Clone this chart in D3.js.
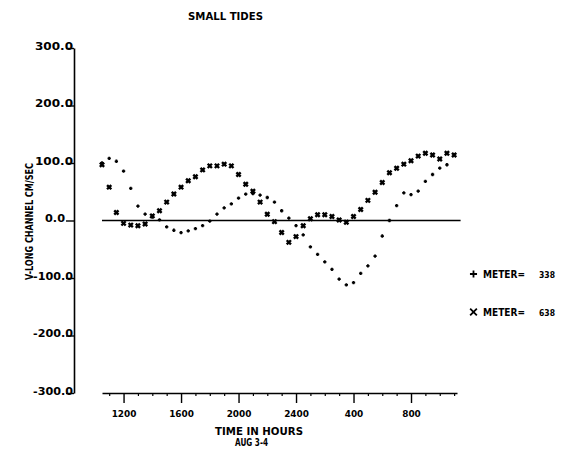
<!DOCTYPE html>
<html>
<head>
<meta charset="utf-8">
<script src="https://cdn.jsdelivr.net/npm/d3@7"></script>
<style>
  html, body { margin: 0; padding: 0; background: #fff; }
  svg text { font-family: "DejaVu Sans", sans-serif; font-weight: bold; fill: #000; }
</style>
</head>
<body>
<svg id="chart" width="561" height="451"></svg>
<script>
// ---- data ----
const hours638 = [10.5, 11, 11.5, 12, 12.5, 13, 13.5, 14, 14.5, 15,
                  15.5, 16, 16.5, 17, 17.5, 18, 18.5, 19, 19.5, 20,
                  20.5, 21, 21.5, 22, 22.5, 23, 23.5, 24, 24.5, 25,
                  25.5, 26, 26.5, 27, 27.5, 28, 28.5, 29, 29.5, 30,
                  30.5, 31, 31.5, 32, 32.5, 33, 33.5, 34, 34.5, 35];
const meter638 = [97, 58, 14, -5, -8, -9, -6, 8, 17, 32,
                  46, 58, 69, 76, 88, 95, 95, 98, 95, 80,
                  63, 51, 32, 11, -2, -21, -38, -28, -9, 3,
                  10, 10, 7, 1, -3, 7, 19, 35, 49, 66,
                  83, 91, 98, 104, 112, 117, 114, 107, 117, 114];
const hours338 = [10.5, 11, 11.5, 12, 12.5, 13, 13.5, 14, 14.5, 15,
                  15.5, 16, 16.5, 17, 17.5, 18, 18.5, 19, 19.5, 20,
                  20.5, 21, 21.5, 22, 22.5, 23, 23.5, 24, 24.5, 25,
                  25.5, 26, 26.5, 27, 27.5, 28, 28.5, 29, 29.5, 30,
                  30.5, 31, 31.5, 32, 32.5, 33, 33.5, 34, 34.5];
const meter338 = [100, 108, 103, 86, 56, 25, 11, 6, 1, -11,
                  -17, -21, -18, -14, -9, -1, 11, 22, 29, 39,
                  46, 47, 44, 40, 32, 17, 4, -9, -25, -46,
                  -59, -72, -85, -102, -112, -108, -92, -79, -62, -27,
                  0, 26, 48, 45, 51, 68, 80, 91, 97];
const yTickValues = [300, 200, 100, 0, -100, -200, -300];
const yTickLabels = ["300.0", "200.0", "100.0", "0.0", "-100.0", "-200.0", "-300.0"];
const xMajorTicks = [12, 16, 20, 24, 28, 32];
const xTickLabels = ["1200", "1600", "2000", "2400", "400", "800"];
const xMinorTicks = [11, 13, 14, 15, 17, 18, 19, 21, 22, 23, 25, 26, 27, 29, 30, 31, 33, 34, 35];
const title = "SMALL TIDES";
const xTitle1 = "TIME IN HOURS";
const xTitle2 = "AUG 3-4";
const yTitle = "V-LONG CHANNEL CM/SEC";
const legendLabels = ["METER=", "METER="];
const legendNumbers = ["338", "638"];

// ---- scales ----
const svg = d3.select("#chart");
const x = d3.scaleLinear().domain([10.5, 35.2]).range([102, 457]);
const y = d3.scaleLinear().domain([-300, 300]).range([393, 48]);
const yAxisX = 74;
const xAxisY = 393;

// custom plotter symbols
const plusSym = { draw(ctx, size) { const r = Math.sqrt(size) / 2;
  ctx.moveTo(-r, 0); ctx.lineTo(r, 0); ctx.moveTo(0, -r); ctx.lineTo(0, r); } };
const timesSym = { draw(ctx, size) { const r = Math.sqrt(size) / 2;
  ctx.moveTo(-r, -r); ctx.lineTo(r, r); ctx.moveTo(-r, r); ctx.lineTo(r, -r); } };

// ---- title ----
svg.append("text").attr("x", 188).attr("y", 20).attr("font-size", 11)
  .attr("textLength", 75).attr("lengthAdjust", "spacingAndGlyphs").text(title);

// ---- y axis ----
const yAxis = d3.axisLeft(y).tickValues(yTickValues).tickSize(8)
  .tickFormat((d, i) => yTickLabels[i]).tickSizeOuter(0);
const gy = svg.append("g").attr("transform", `translate(${yAxisX},0)`).call(yAxis);
gy.select(".domain").attr("stroke", "#000").attr("stroke-width", 1.6);
gy.selectAll(".tick line").attr("stroke", "#000").attr("stroke-width", 1.4);
gy.selectAll(".tick text").attr("font-size", 11).attr("x", -1).attr("dy", "0.1em")
  .style("font-family", "DejaVu Sans").style("font-weight", "bold")
  .attr("textLength", (d, i) => yTickLabels[i].length > 5 ? 40 : (yTickLabels[i].length > 3 ? 38 : 20))
  .attr("lengthAdjust", "spacingAndGlyphs");
gy.selectAll(".tick").filter(d => d === 0).select("text").attr("x", -9);

// ---- x axis ----
const xAxis = d3.axisBottom(x).tickValues(xMajorTicks).tickSize(10)
  .tickFormat((d, i) => xTickLabels[i]).tickSizeOuter(0);
const gx = svg.append("g").attr("transform", `translate(0,${xAxisY})`).call(xAxis);
gx.select(".domain").attr("stroke", "#000").attr("stroke-width", 1.6);
gx.selectAll(".tick line").attr("stroke", "#000").attr("stroke-width", 1.4);
gx.selectAll(".tick text").attr("font-size", 9.5).attr("y", 24).attr("dy", 0)
  .style("font-family", "DejaVu Sans").style("font-weight", "bold")
  .attr("textLength", (d, i) => xTickLabels[i].length * 6.2)
  .attr("lengthAdjust", "spacingAndGlyphs");
const xMinor = d3.axisBottom(x).tickValues(xMinorTicks).tickSize(3).tickFormat("").tickSizeOuter(0);
const gxm = svg.append("g").attr("transform", `translate(0,${xAxisY})`).call(xMinor);
gxm.select(".domain").remove();
gxm.selectAll(".tick line").attr("stroke", "#000").attr("stroke-width", 1.2);

// axis titles
svg.append("text").attr("x", 215).attr("y", 435).attr("font-size", 10)
  .attr("textLength", 88).attr("lengthAdjust", "spacingAndGlyphs").text(xTitle1);
svg.append("text").attr("x", 235).attr("y", 446).attr("font-size", 10)
  .attr("textLength", 33).attr("lengthAdjust", "spacingAndGlyphs").text(xTitle2);
svg.append("text").attr("transform", "translate(33,280) rotate(-90)").attr("font-size", 10.5)
  .attr("textLength", 117).attr("lengthAdjust", "spacingAndGlyphs").text(yTitle);

// ---- zero line ----
svg.append("line").attr("x1", x(10.5)).attr("x2", x(35.45))
  .attr("y1", y(0)).attr("y2", y(0)).attr("stroke", "#000").attr("stroke-width", 1.6);

// ---- series ----
svg.append("g").selectAll("path").data(meter638).join("path")
  .attr("transform", (d, i) => `translate(${x(hours638[i])},${y(d)})`)
  .attr("d", d3.symbol().type(timesSym).size(18))
  .attr("stroke", "#000").attr("stroke-width", 2.4).attr("fill", "none");
svg.append("g").selectAll("path").data(meter338).join("path")
  .attr("transform", (d, i) => `translate(${x(hours338[i])},${y(d)})`)
  .attr("d", d3.symbol().type(plusSym).size(11))
  .attr("stroke", "#000").attr("stroke-width", 1.8).attr("fill", "none");

// ---- legend ----
const legY = [274, 312];
const legSym = [plusSym, timesSym];
legY.forEach((ly, i) => {
  svg.append("path").attr("transform", `translate(473.5,${ly})`)
    .attr("d", d3.symbol().type(legSym[i]).size(i === 0 ? 50 : 45))
    .attr("stroke", "#000").attr("stroke-width", 1.8).attr("fill", "none");
  svg.append("text").attr("x", 483).attr("y", ly + 4).attr("font-size", 10)
    .attr("textLength", 42).attr("lengthAdjust", "spacingAndGlyphs").text(legendLabels[i]);
  svg.append("text").attr("x", 539).attr("y", ly + 4).attr("font-size", 9.5)
    .attr("textLength", 16).attr("lengthAdjust", "spacingAndGlyphs").text(legendNumbers[i]);
});
</script>
</body>
</html>
